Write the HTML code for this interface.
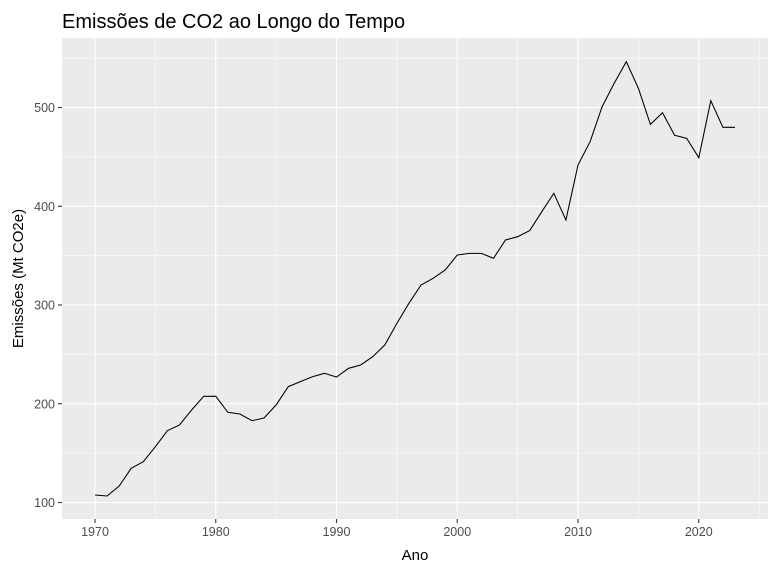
<!DOCTYPE html>
<html><head><meta charset="utf-8"><style>
body{margin:0;background:#fff;font-family:"Liberation Sans",Arial,sans-serif;}
svg text{font-family:"Liberation Sans",Arial,sans-serif;}
</style></head><body>
<svg id="chart" width="778" height="573" xmlns="http://www.w3.org/2000/svg">
<rect width="778" height="573" fill="#fff"/>
<text x="62" y="28" font-size="20" fill="#000">Emissões de CO2 ao Longo do Tempo</text>
<rect x="62" y="38" width="706" height="481" fill="#ebebeb"/>
<g id="grid"></g>
<g id="axes"></g>
<path id="line" fill="none" stroke="#000" stroke-width="1.07"/>
<text x="415" y="560" font-size="15" text-anchor="middle" fill="#000">Ano</text>
<text transform="translate(23,278.5) rotate(-90)" font-size="15" text-anchor="middle" fill="#000">Emissões (Mt CO2e)</text>
</svg>
<script>
const years=[1970,1971,1972,1973,1974,1975,1976,1977,1978,1979,1980,1981,1982,1983,1984,1985,1986,1987,1988,1989,1990,1991,1992,1993,1994,1995,1996,1997,1998,1999,2000,2001,2002,2003,2004,2005,2006,2007,2008,2009,2010,2011,2012,2013,2014,2015,2016,2017,2018,2019,2020,2021,2022,2023];
const emissions=[107.6,106.6,116.7,134.6,141.3,156.5,172.7,178.5,193.7,207.5,207.5,191.3,189.6,182.8,185.6,198.7,217.3,222.4,227.4,230.8,227.1,235.9,239.2,247.6,259.5,281.4,301.7,320.3,327,335.4,350.6,352.3,352.3,347.3,365.8,369.2,375.3,394.5,413.1,386.1,441.8,465.4,500.8,524.5,546.4,519.4,482.9,494.7,471.8,468.7,449.2,506.9,480,480];
const xMajor=[1970,1980,1990,2000,2010,2020];
const xMinor=[1975,1985,1995,2005,2015,2025];
const yMajor=[100,200,300,400,500];
const yMinor=[150,250,350,450,550];
const L=62,R=768,T=38,B=519;
const x=v=>95+(v-1970)*12.075;
const y=v=>502.5-(v-100)*0.9875;
const NS="http://www.w3.org/2000/svg";
const grid=document.getElementById('grid'),axes=document.getElementById('axes');
function ln(p,x1,y1,x2,y2,c,w){const e=document.createElementNS(NS,'line');e.setAttribute('x1',x1);e.setAttribute('y1',y1);e.setAttribute('x2',x2);e.setAttribute('y2',y2);e.setAttribute('stroke',c);e.setAttribute('stroke-width',w);p.appendChild(e);return e;}
function tx(p,xx,yy,s,a){const e=document.createElementNS(NS,'text');e.setAttribute('x',xx);e.setAttribute('y',yy);e.setAttribute('font-size','12.5');e.setAttribute('fill','#4d4d4d');e.setAttribute('text-anchor',a);e.textContent=s;p.appendChild(e);return e;}
xMinor.forEach(v=>{if(x(v)<R){const e=ln(grid,x(v),T,x(v),B,'#fff',0.55);

}});
yMinor.forEach(v=>{if(y(v)>T){const e=ln(grid,L,y(v),R,y(v),'#fff',0.55);

}});
xMajor.forEach(v=>{const e=ln(grid,x(v),T,x(v),B,'#fff',1.1);


const t=ln(axes,x(v),B,x(v),B+4,'#333',1.1);


const l=tx(axes,x(v),B+17,String(v),'middle');

});
yMajor.forEach(v=>{const e=ln(grid,L,y(v),R,y(v),'#fff',1.1);


const t=ln(axes,L-4,y(v),L,y(v),'#333',1.1);


const l=tx(axes,L-7,y(v)+4.5,String(v),'end');

});
document.getElementById('line').setAttribute('d',years.map((yr,i)=>(i?'L':'M')+x(yr).toFixed(1)+','+y(emissions[i]).toFixed(1)).join(''));
</script>
</body></html>
